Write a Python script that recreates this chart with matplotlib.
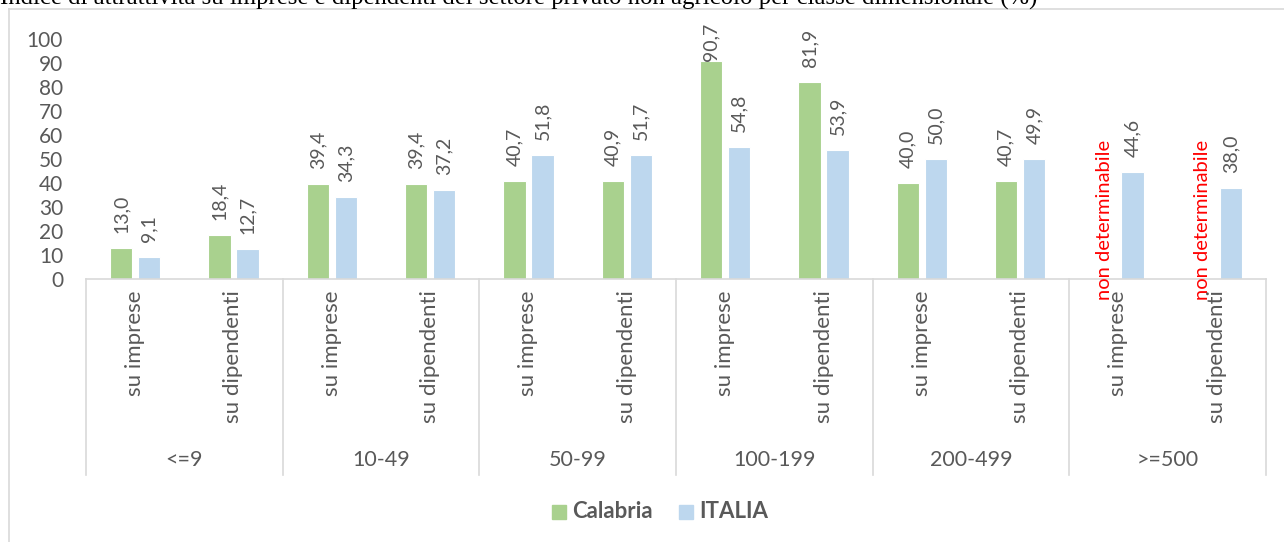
import matplotlib.pyplot as plt
from matplotlib.patches import Rectangle
from matplotlib.lines import Line2D
import numpy as np

plt.rcParams["font.family"] = ["Lato", "DejaVu Sans"]

TITLE = ("Indice di attrattività su imprese e dipendenti del settore privato "
         "non agricolo per classe dimensionale (%)")
classes = ["<=9", "10-49", "50-99", "100-199", "200-499", ">=500"]
measures = ["su imprese", "su dipendenti"]
calabria = [13.0, 18.4, 39.4, 39.4, 40.7, 40.9, 90.7, 81.9, 40.0, 40.7, None, None]
italia = [9.1, 12.7, 34.3, 37.2, 51.8, 51.7, 54.8, 53.9, 50.0, 49.9, 44.6, 38.0]
missing_label = "non determinabile"

GREEN = "#A9D18E"
BLUE = "#BDD7EE"
TEXT = "#595959"
AXIS = "#D9D9D9"
FS = 15

W, H = 1284, 542
fig = plt.figure(figsize=(W / 100, H / 100), dpi=100)


def fx(px):
    return px / W


def fy(py):
    return 1 - py / H


# chart area border (top and left edges)
fig.add_artist(Line2D([fx(9), fx(W)], [fy(9), fy(9)], color=AXIS, lw=1.2))
fig.add_artist(Line2D([fx(9), fx(9)], [fy(9), 0], color=AXIS, lw=1.2))
fig.text(0, fy(5), TITLE, family="Liberation Serif", fontsize=17.8,
         va="baseline", ha="left", color="black")

AX_TOP, AX_BOT = 39, 279
ax = fig.add_axes([fx(86), fy(AX_BOT), fx(1266) - fx(86), fy(AX_TOP) - fy(AX_BOT)])
n = len(calabria)
x = np.arange(n)
bw, off = 0.225, 0.143

cal_vals = [v if v is not None else 0 for v in calabria]
ax.bar(x - off, cal_vals, bw, color=GREEN, edgecolor="white", lw=0.8)
ax.bar(x + off, italia, bw, color=BLUE, edgecolor="white", lw=0.8)

fmt = lambda v: f"{v:.1f}".replace(".", ",")
px_per_unit = (AX_BOT - AX_TOP) / 100


def value_label(xpos, v):
    # labels are pushed down when they would run past the chart top
    bar_top = AX_BOT - v * px_per_unit
    gap = min(15, bar_top - 23 - 38)
    ax.annotate(fmt(v), (xpos, v), xytext=(0, gap * 0.72), textcoords="offset points",
                rotation=90, rotation_mode="anchor", ha="left", va="center",
                fontsize=14, color=TEXT, annotation_clip=False)


for xi, v in zip(x, calabria):
    if v is None:
        ax.text(xi - off, -8.8, missing_label, rotation=90, rotation_mode="anchor",
                color="red", ha="left", va="center", fontsize=14.5, clip_on=False)
    else:
        value_label(xi - off, v)
for xi, v in zip(x, italia):
    value_label(xi + off, v)

ax.set_xlim(-0.5, n - 0.5)
ax.set_ylim(0, 100)
ax.set_yticks(range(0, 101, 10))
ax.tick_params(axis="y", length=0, labelsize=FS, labelcolor=TEXT, pad=16.5)
ax.set_xticks([])
for s in ["top", "right", "left"]:
    ax.spines[s].set_visible(False)
ax.spines["bottom"].set_color(AXIS)
ax.spines["bottom"].set_linewidth(1.2)

# two-level category axis
to_fig = ax.transData + fig.transFigure.inverted()
for i in range(n):
    xf = to_fig.transform((i, 0))[0]
    fig.text(xf, fy(290), measures[i % 2], rotation=90, ha="center", va="top",
             fontsize=16, color=TEXT)
for g, name in enumerate(classes):
    xf = to_fig.transform((2 * g + 0.5, 0))[0]
    fig.text(xf, fy(460), name, ha="center", va="center", fontsize=15.5, color=TEXT)
for g in range(len(classes) + 1):
    xf = to_fig.transform((2 * g - 0.5, 0))[0]
    fig.add_artist(Line2D([xf, xf], [fy(279), fy(475)], color=AXIS, lw=1.2))

# legend
for px, col, lab in [(552, GREEN, "Calabria"), (679, BLUE, "ITALIA")]:
    fig.add_artist(Rectangle((fx(px), fy(519)), fx(14), fy(505) - fy(519),
                             color=col, transform=fig.transFigure))
    fig.text(fx(px + 20), fy(512), lab, ha="left", va="center", fontsize=16,
             fontweight="bold", color=TEXT)

fig.savefig("out.png", dpi=100)
